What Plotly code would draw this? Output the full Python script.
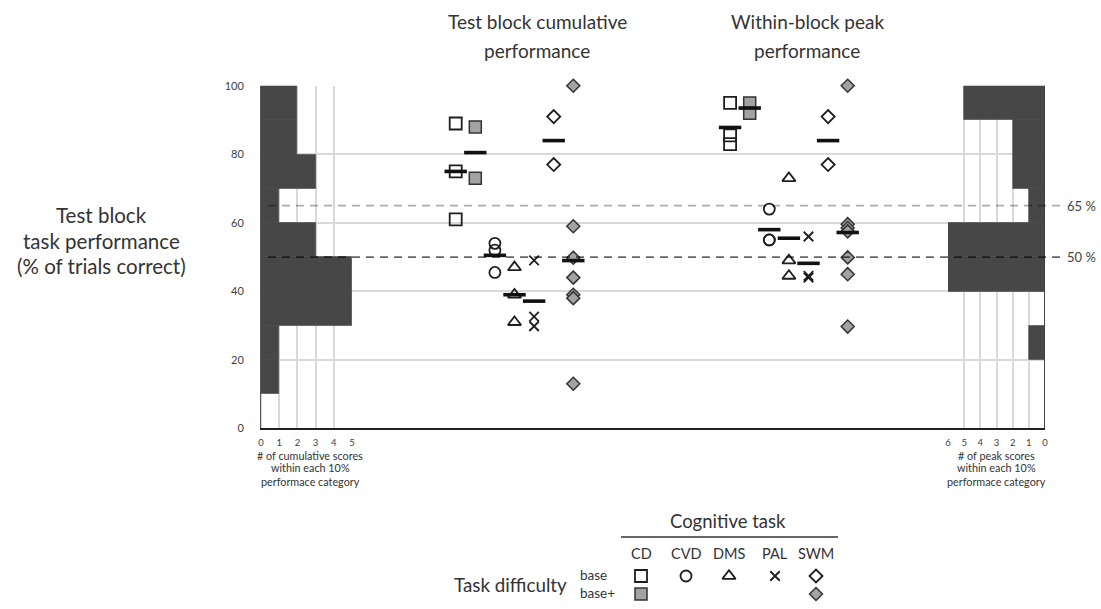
import numpy as np
import plotly.graph_objects as go

W, H = 1101, 609

# ---- data -------------------------------------------------------------
bin_centers = [5, 15, 25, 35, 45, 55, 65, 75, 85, 95]
cum_counts = [0, 1, 1, 5, 5, 3, 1, 3, 2, 2]
peak_counts = [0, 0, 1, 0, 6, 6, 1, 2, 2, 5]

groups = ["CD base", "CD base+", "CVD base", "DMS base", "PAL base", "SWM base", "SWM base+"]
cum_slots = [0, 1, 2, 3, 4, 5, 6]
peak_slots = [14, 15, 16, 17, 18, 19, 20]

cum_cd_base = [89, 75, 61]
cum_cd_plus = [88, 73]
cum_cvd = [54, 52, 45.5]
cum_dms = [47, 39, 31]
cum_pal = [49, 32.6, 29.8]
cum_swm_base = [91, 77]
cum_swm_plus = [100, 59, 49.8, 44, 39, 38, 13]

peak_cd_base = [95, 85.5, 83]
peak_cd_plus = [95, 92]
peak_cvd = [64, 55, 55]
peak_dms = [73, 49, 44.5]
peak_pal = [56, 44.5, 44]
peak_swm_base = [91, 77]
peak_swm_plus = [100, 59.6, 58.5, 57.5, 49.9, 45, 29.7]

cum_values = [cum_cd_base, cum_cd_plus, cum_cvd, cum_dms, cum_pal, cum_swm_base, cum_swm_plus]
peak_values = [peak_cd_base, peak_cd_plus, peak_cvd, peak_dms, peak_pal, peak_swm_base, peak_swm_plus]

y_ticks = [0, 20, 40, 60, 80, 100]
task_labels = ["CD", "CVD", "DMS", "PAL", "SWM"]

# ---- styles -----------------------------------------------------------
INK = "#1e1e1e"
FILL = "#a3a3a3"
BAR = "#474747"
GRID = "#d9d9d9"
FONT = "Lato"

open_style = dict(color=INK, line=dict(width=1.8, color=INK))
filled_style = dict(color=FILL, line=dict(width=1.5, color="#333333"))
marker_styles = [
    dict(symbol="square-open", size=12, **open_style),
    dict(symbol="square", size=12, **filled_style),
    dict(symbol="circle-open", size=11, **open_style),
    dict(symbol="triangle-up-open", size=11.5, **open_style),
    dict(symbol="x-thin-open", size=9.5, **open_style),
    dict(symbol="diamond-open", size=10, **open_style),
    dict(symbol="diamond", size=10, **filled_style),
]


def px(x):
    return x / W


def py(y):
    return 1 - y / H


fig = go.Figure()

# histograms of scores per 10% bin
bar_marker = dict(color=BAR, line=dict(color=BAR, width=0.6))
fig.add_trace(go.Bar(x=cum_counts, y=bin_centers, width=10, orientation="h",
                     marker=bar_marker, xaxis="x", yaxis="y",
                     showlegend=False, hoverinfo="skip"))
fig.add_trace(go.Bar(x=peak_counts, y=bin_centers, width=10, orientation="h",
                     marker=bar_marker, xaxis="x3", yaxis="y",
                     showlegend=False, hoverinfo="skip"))

# individual scores
for slots, values in ((cum_slots, cum_values), (peak_slots, peak_values)):
    for slot, vals, style in zip(slots, values, marker_styles):
        fig.add_trace(go.Scatter(x=[slot] * len(vals), y=vals, mode="markers",
                                 marker=style, xaxis="x2", yaxis="y",
                                 showlegend=False, cliponaxis=False))

# group means
for slots, values in ((cum_slots, cum_values), (peak_slots, peak_values)):
    fig.add_trace(go.Scatter(x=slots, y=[float(np.mean(v)) for v in values], mode="markers",
                             marker=dict(symbol="line-ew", size=16, color="#111111",
                                         line=dict(width=3.6, color="#111111")),
                             xaxis="x2", yaxis="y", showlegend=False, cliponaxis=False))

# key symbols below the chart (overlay axis in pixel units)
key_x = [641, 686, 729, 775, 816]
key_base_y = 576
key_plus_y = 594
base_styles = [marker_styles[0], marker_styles[2], marker_styles[3], marker_styles[4], marker_styles[5]]
for kx, st in zip(key_x, base_styles):
    fig.add_trace(go.Scatter(x=[kx], y=[key_base_y], mode="markers", marker=st,
                             xaxis="x4", yaxis="y4", showlegend=False, hoverinfo="skip"))
for kx, st in ((key_x[0], marker_styles[1]), (key_x[4], marker_styles[6])):
    fig.add_trace(go.Scatter(x=[kx], y=[key_plus_y], mode="markers", marker=st,
                             xaxis="x4", yaxis="y4", showlegend=False, hoverinfo="skip"))

y0_px, y100_px = 428.3, 85.8
slot0_px, slot_w = 455.7, 19.6
left0, left5 = 261, 352
right6, right0 = 948, 1045

fig.update_layout(
    width=W, height=H, autosize=False,
    margin=dict(l=0, r=0, t=0, b=0, autoexpand=False),
    paper_bgcolor="white", plot_bgcolor="rgba(0,0,0,0)",
    font=dict(family=FONT, color="#333333"),
    bargap=0,
    yaxis=dict(domain=[py(y0_px), py(y100_px)], range=[0, 100], tickvals=y_ticks,
               showgrid=True, gridcolor=GRID, gridwidth=1.5, zeroline=False,
               showline=True, linecolor="#555555", linewidth=1, ticks="", automargin=False,
               ticklabelstandoff=14, tickfont=dict(size=11, color="#404040"), anchor="x"),
    xaxis=dict(domain=[px(left0), px(left5)], range=[0, 5], tickvals=[0, 1, 2, 3, 4, 5],
               showgrid=True, gridcolor=GRID, gridwidth=1.5, zeroline=False,
               showline=True, linecolor="#222222", linewidth=2, ticks="", automargin=False,
               ticklabelstandoff=4, tickfont=dict(size=9.5, color="#404040"), anchor="y"),
    xaxis2=dict(domain=[px(left5), px(right6)],
                range=[(left5 - slot0_px) / slot_w, (right6 - slot0_px) / slot_w],
                showgrid=False, zeroline=False, showticklabels=False, automargin=False,
                showline=True, linecolor="#222222", linewidth=2, ticks="", anchor="y"),
    xaxis3=dict(domain=[px(right6), px(right0)], range=[6, 0], tickvals=[0, 1, 2, 3, 4, 5, 6],
                showgrid=True, gridcolor=GRID, gridwidth=1.5, zeroline=False,
                showline=True, linecolor="#222222", linewidth=2, ticks="", automargin=False,
                ticklabelstandoff=4, tickfont=dict(size=9.5, color="#404040"), anchor="y"),
    xaxis4=dict(domain=[0, 1], range=[0, W], visible=False, anchor="y4", automargin=False),
    yaxis4=dict(domain=[0, 1], range=[H, 0], visible=False, anchor="x4", automargin=False),
)

shapes = []
# right border of the peak histogram
shapes.append(dict(type="line", xref="x3", yref="y", x0=0, x1=0, y0=0, y1=100,
                   line=dict(color="#333333", width=1.5), layer="above"))
# threshold lines
for level, col in ((65, "rgba(0,0,0,0.32)"), (50, "rgba(0,0,0,0.6)")):
    shapes.append(dict(type="line", xref="paper", yref="y", x0=px(268), x1=px(1060),
                       y0=level, y1=level, line=dict(color=col, width=1.8, dash="8px,6px"),
                       layer="above"))
# rule under the key heading
shapes.append(dict(type="line", xref="paper", yref="paper", x0=px(621), x1=px(838),
                   y0=py(537), y1=py(537), line=dict(color="#333333", width=1.5)))
fig.update_layout(shapes=shapes)

ann = []


def text(x, y, s, size, anchor="center", color="#333333"):
    ann.append(dict(x=px(x), y=py(y), xref="paper", yref="paper", text=s, showarrow=False,
                    xanchor=anchor, yanchor="middle",
                    font=dict(family=FONT, size=size, color=color)))


text(537, 22, "Test block cumulative", 19)
text(537, 50, "performance", 19)
text(807, 22, "Within-block peak", 19)
text(807, 50, "performance", 19)

text(101, 215, "Test block", 20.5)
text(101, 241, "task performance", 20.5)
text(101, 266, "(% of trials correct)", 20.5)

for i, line in enumerate(["# of cumulative scores", "within each 10%", "performace category"]):
    text(310, 455 + 13 * i, line, 10.8)
for i, line in enumerate(["# of peak scores", "within each 10%", "performace category"]):
    text(996, 455 + 13 * i, line, 10.8)

for level in (65, 50):
    ann.append(dict(x=px(1065), y=level, xref="paper", yref="y", text=f"{level} %",
                    showarrow=False, xanchor="left", yanchor="middle",
                    font=dict(family=FONT, size=13, color="#444444")))

text(728, 521, "Cognitive task", 18.5)
for kx, lab in zip(key_x, task_labels):
    text(kx, 553, lab, 14.5)
text(578, 575, "base", 13.5, anchor="left")
text(578, 593, "base+", 13.5, anchor="left")
text(510, 584, "Task difficulty", 18.8)

fig.update_layout(annotations=ann)

fig.write_html("out.html")
